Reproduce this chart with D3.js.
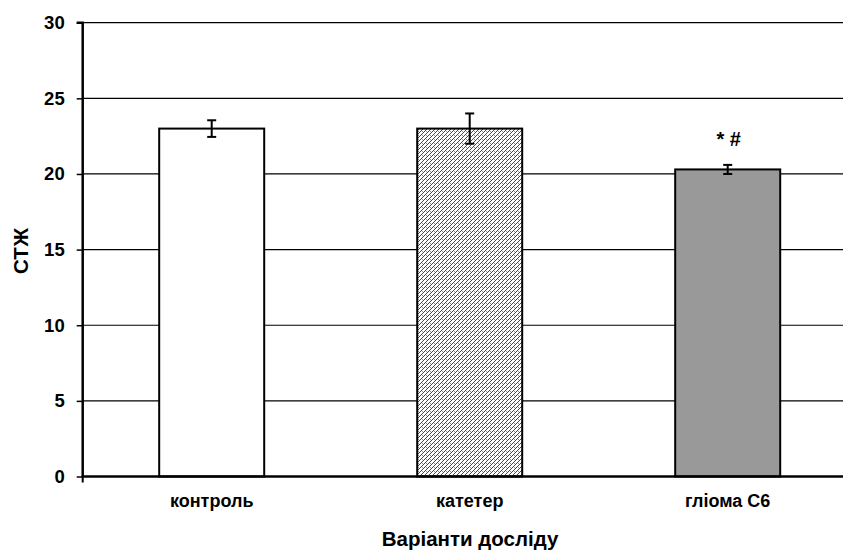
<!DOCTYPE html>
<html><head><meta charset="utf-8">
<script src="https://cdn.jsdelivr.net/npm/d3@7"></script>
<style>html,body{margin:0;padding:0;background:#fff;}svg{display:block;font-family:"Liberation Sans",Arial,sans-serif;}</style>
</head><body>
<script>
const categories = ["контроль", "катетер", "гліома С6"];
const values = [23.0, 23.0, 20.3];
const errors = [0.55, 1.0, 0.3];
const marks = ["", "", "* #"];
const yTicks = [0, 5, 10, 15, 20, 25, 30];
const xTitle = "Варіанти досліду";
const yTitle = "СТЖ";

const W = 843, H = 552;
const svg = d3.select("body").append("svg").attr("width", W).attr("height", H);
const defs = svg.append("defs");
const pat = defs.append("pattern").attr("id", "hatch").attr("patternUnits", "userSpaceOnUse")
  .attr("width", 4).attr("height", 4);
pat.append("rect").attr("width", 4).attr("height", 4).attr("fill", "#fff");
pat.append("path").attr("d", "M-1,1 L1,-1 M0,4 L4,0 M3,5 L5,3").attr("stroke", "#333").attr("stroke-width", 0.9);
pat.append("rect").attr("x", 2).attr("y", 3).attr("width", 0.8).attr("height", 0.8).attr("fill", "#555");

const x0 = 82.7, bandStep = 258;
const x = d3.scaleBand().domain(categories).range([x0, x0 + bandStep * categories.length])
  .paddingInner(0.593).paddingOuter(0.2965);
const y = d3.scaleLinear().domain([0, 30]).range([476.5, 22.7]);

const fills = ["#ffffff", "url(#hatch)", "#999999"];

// gridlines
svg.append("g").selectAll("line").data(yTicks.filter(d => d > 0)).join("line")
  .attr("x1", x0).attr("x2", W).attr("y1", d => y(d)).attr("y2", d => y(d))
  .attr("stroke", "#000").attr("stroke-width", 1.2);

// bars
svg.append("g").selectAll("rect").data(categories).join("rect")
  .attr("x", d => x(d)).attr("width", x.bandwidth())
  .attr("y", (d, i) => y(values[i])).attr("height", (d, i) => y(0) - y(values[i]))
  .attr("fill", (d, i) => fills[i]).attr("stroke", "#000").attr("stroke-width", 2);

// error bars
const eb = svg.append("g").attr("stroke", "#000").attr("stroke-width", 2);
categories.forEach((c, i) => {
  const cx = x(c) + x.bandwidth() / 2;
  eb.append("line").attr("x1", cx).attr("x2", cx).attr("y1", y(values[i] + errors[i])).attr("y2", y(values[i] - errors[i]));
  eb.append("line").attr("x1", cx - 4.5).attr("x2", cx + 4.5).attr("y1", y(values[i] + errors[i])).attr("y2", y(values[i] + errors[i]));
  eb.append("line").attr("x1", cx - 4.5).attr("x2", cx + 4.5).attr("y1", y(values[i] - errors[i])).attr("y2", y(values[i] - errors[i]));
  if (marks[i]) {
    svg.append("text").attr("x", cx + 1).attr("y", y(values[i] + errors[i]) - 19)
      .attr("text-anchor", "middle").attr("font-size", 20).attr("font-weight", "bold")
      .attr("xml:space", "preserve").text(marks[i]);
  }
});

// y axis
const yAxis = d3.axisLeft(y).tickValues(yTicks).tickSize(6).tickPadding(12);
const ga = svg.append("g").attr("transform", `translate(${x0},0)`).call(yAxis);
ga.select(".domain").attr("stroke", "#000").attr("stroke-width", 2.5).attr("d", `M-6,${y(30)}H0V${y(0)}`);
ga.selectAll(".tick line").attr("stroke", "#000").attr("stroke-width", 1.5);
ga.selectAll(".tick text").attr("font-size", 18.5).attr("font-weight", "bold").attr("fill", "#000")
  .attr("font-family", "Liberation Sans, Arial, sans-serif");

// x axis
const xAxis = d3.axisBottom(x).tickSize(0).tickPadding(18);
const gx = svg.append("g").attr("transform", `translate(0,${y(0)})`).call(xAxis);
gx.select(".domain").attr("stroke", "#000").attr("stroke-width", 2.5).attr("d", `M${x0 - 1},0H${W}`);
gx.append("line").attr("x1", x0).attr("x2", x0).attr("y1", 0).attr("y2", 6).attr("stroke", "#000").attr("stroke-width", 2);
gx.selectAll(".tick text").attr("font-size", 18).attr("font-weight", "bold").attr("fill", "#000")
  .attr("font-family", "Liberation Sans, Arial, sans-serif");

svg.append("text").attr("x", 470).attr("y", 546).attr("text-anchor", "middle")
  .attr("font-size", 20.5).attr("font-weight", "bold").text(xTitle);
svg.append("text").attr("transform", "translate(28,251) rotate(-90)").attr("text-anchor", "middle")
  .attr("font-size", 20.5).attr("font-weight", "bold").text(yTitle);
</script>
</body></html>
